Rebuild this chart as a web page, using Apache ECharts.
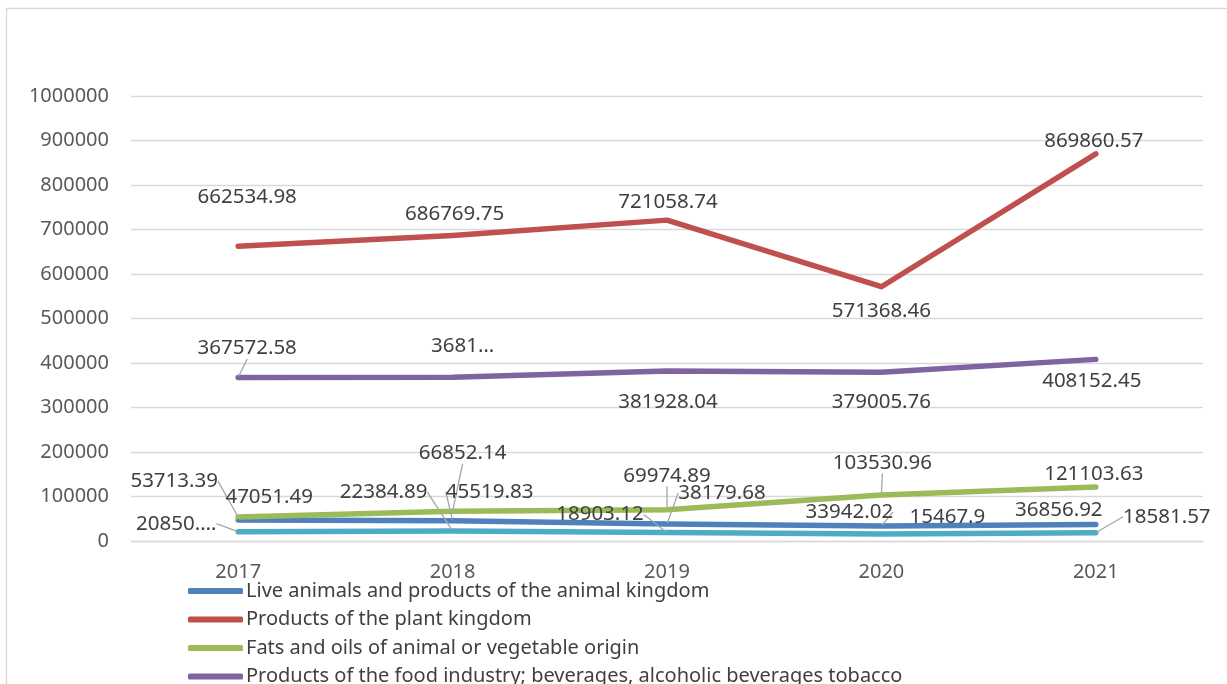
<!DOCTYPE html>
<html lang="en">
<head>
  <meta charset="UTF-8">
  <title>Food products chart</title>
  <script src="https://cdn.jsdelivr.net/npm/echarts@6/dist/echarts.min.js"></script>
  <style>
    html, body { margin: 0; padding: 0; background: #fff; }
    #chart { width: 1227px; height: 684px; }
  </style>
</head>
<body>
  <div id="chart"></div>
  <script>
    // chart values
    var years = ['2017', '2018', '2019', '2020', '2021'];
    var liveAnimals = [47051.49, 45519.83, 38179.68, 33942.02, 36856.92];
    var plantKingdom = [662534.98, 686769.75, 721058.74, 571368.46, 869860.57];
    var fatsOils = [53713.39, 66852.14, 69974.89, 103530.96, 121103.63];
    var foodIndustry = [367572.58, 368150, 381928.04, 379005.76, 408152.45];
    var fifthSeries = [20850.5, 22384.89, 18903.12, 15467.9, 18581.57];
    // labels shown cut short in the picture
    var foodIndustryText = [null, '3681…', null, null, null];
    var fifthSeriesText = ['20850.…', null, null, null, null];

    var names = [
      'Live animals and products of the animal kingdom',
      'Products of the plant kingdom',
      'Fats and oils of animal or vegetable origin',
      'Products of the food industry; beverages, alcoholic beverages tobacco',
      'Other'
    ];

    // label placement (dx, dy from the point) and leader lines
    var labelMoves = [
      [[31, -23], [37, -29], [55, -31], [-32, -14], [-37, -14]],
      [[9, -49], [2, -21], [1, -18], [0, 24], [-2, -13]],
      [[-64, -36], [10, -58], [0, -34], [1, -32], [-2, -13]],
      [[9, -29], [10, -31], [1, 31], [0, 30], [-4, 22]],
      [[-62, -8], [-69, -39], [-67, -18], [66, -17], [71, -16]]
    ];
    var leaders = [
      [false, true, true, true, false],
      [false, false, false, false, false],
      [true, true, true, true, false],
      [true, false, false, false, false],
      [true, true, true, false, true]
    ];
    var colors = ['#4F81BD', '#C0504D', '#9BBB59', '#8064A2', '#4BACC6'];
    var font = '"Noto Sans", "Liberation Sans", sans-serif';

    function makeSeries(idx, values, texts) {
      return {
        name: names[idx],
        type: 'line',
        data: values.map(function (v, i) {
          return { value: v, labelLine: { show: leaders[idx][i] } };
        }),
        symbol: 'circle',
        symbolSize: 2,
        lineStyle: { width: 5.5, color: colors[idx], cap: 'round', join: 'round' },
        itemStyle: { color: colors[idx] },
        label: {
          show: true,
          position: 'inside',
          color: '#404040',
          fontSize: 20.5,
          fontFamily: font,
          formatter: function (p) {
            if (texts && texts[p.dataIndex]) return texts[p.dataIndex];
            return String(p.value);
          }
        },
        labelLine: {
          show: true,
          lineStyle: { color: '#A6A6A6', width: 1.3 }
        },
        labelLayout: function (p) {
          var m = labelMoves[idx][p.dataIndex];
          return { dx: m[0], dy: m[1] };
        },
        emphasis: { disabled: true },
        animation: false
      };
    }

    var chart = echarts.init(document.getElementById('chart'));
    chart.setOption({
      animation: false,
      color: colors,
      graphic: [{
        type: 'rect',
        left: 4, top: 6,
        shape: { width: 1300, height: 720 },
        style: { fill: 'none', stroke: '#D9D9D9', lineWidth: 1.3 },
        silent: true
      }],
      grid: { left: 131, right: 24, top: 96, bottom: 143 },
      xAxis: {
        type: 'category',
        data: years,
        axisLine: { lineStyle: { color: '#D9D9D9', width: 1.3 } },
        axisTick: { show: false },
        axisLabel: { color: '#595959', fontSize: 20, fontFamily: font, margin: 21 }
      },
      yAxis: {
        type: 'value',
        min: 0, max: 1000000, interval: 100000,
        axisLine: { show: false },
        axisTick: { show: false },
        axisLabel: {
          color: '#595959', fontSize: 20, fontFamily: font, margin: 22,
          formatter: function (v) { return String(v); }
        },
        splitLine: { lineStyle: { color: '#D9D9D9', width: 1.3 } }
      },
      legend: {
        orient: 'vertical',
        left: 188, top: 581,
        height: 200,
        padding: 0,
        data: names.slice(0, 4),
        icon: 'roundRect',
        itemWidth: 55, itemHeight: 6,
        itemGap: 8.5,
        textStyle: { color: '#404040', fontSize: 20, fontFamily: font, padding: [0, 0, 0, -2] },
        selectedMode: false
      },
      series: [
        makeSeries(0, liveAnimals),
        makeSeries(1, plantKingdom),
        makeSeries(2, fatsOils),
        makeSeries(3, foodIndustry, foodIndustryText),
        makeSeries(4, fifthSeries, fifthSeriesText)
      ]
    });
  </script>
</body>
</html>
